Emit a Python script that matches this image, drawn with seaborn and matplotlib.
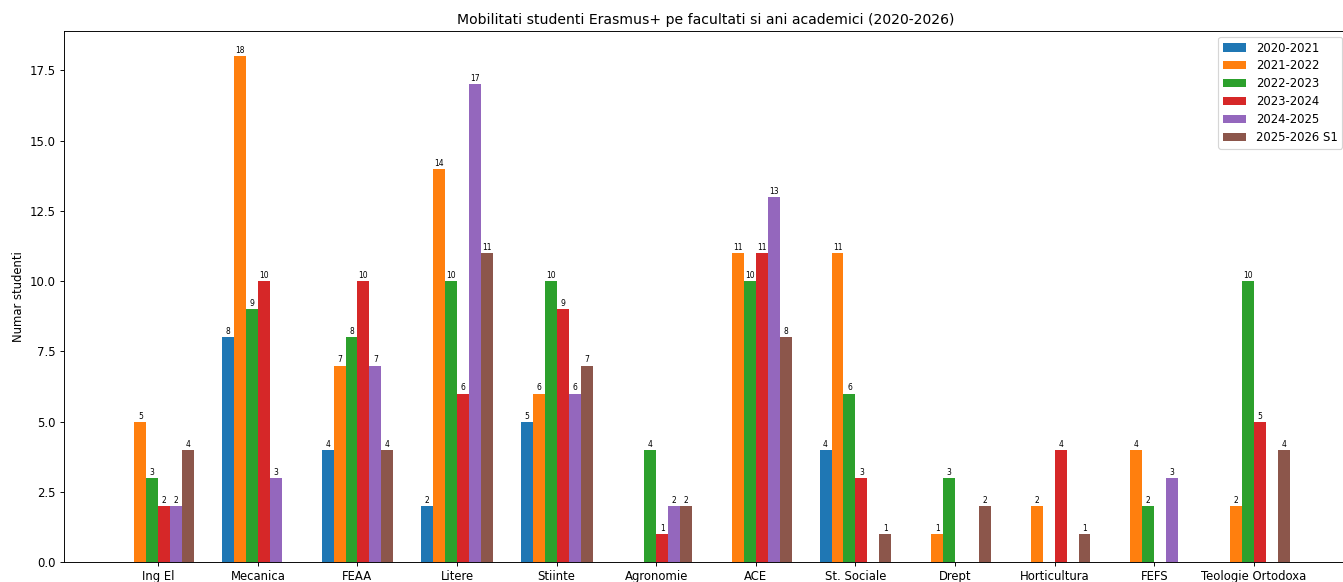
import matplotlib
matplotlib.use("Agg")
import matplotlib.pyplot as plt
import seaborn as sns
import pandas as pd

categories = ["Ing El", "Mecanica", "FEAA", "Litere", "Stiinte", "Agronomie",
              "ACE", "St. Sociale", "Drept", "Horticultura", "FEFS", "Teologie Ortodoxa"]
years = ["2020-2021", "2021-2022", "2022-2023", "2023-2024", "2024-2025", "2025-2026 S1"]

y2020 = [0, 8, 4, 2, 5, 0, 0, 4, 0, 0, 0, 0]
y2021 = [5, 18, 7, 14, 6, 0, 11, 11, 1, 2, 4, 2]
y2022 = [3, 9, 8, 10, 10, 4, 10, 6, 3, 0, 2, 10]
y2023 = [2, 10, 10, 6, 9, 1, 11, 3, 0, 4, 0, 5]
y2024 = [2, 3, 7, 17, 6, 2, 13, 0, 0, 0, 3, 0]
y2025 = [4, 0, 4, 11, 7, 2, 8, 1, 2, 1, 0, 4]

series = [y2020, y2021, y2022, y2023, y2024, y2025]
rows = []
for yr, vals in zip(years, series):
    for c, v in zip(categories, vals):
        rows.append({"Facultate": c, "An": yr, "Studenti": v})
df = pd.DataFrame(rows)

DPI = 84
W, H = 1343, 582
fig = plt.figure(figsize=(W / DPI, H / DPI), dpi=DPI)
left, right, top, bottom = 64, 1348, 31, 562.3
ax = fig.add_axes([left / W, (H - bottom) / H, (right - left) / W, (bottom - top) / H])

palette = ["#1f77b4", "#ff7f0e", "#2ca02c", "#d62728", "#9467bd", "#8c564b"]
sns.barplot(data=df, x="Facultate", y="Studenti", hue="An", order=categories,
            hue_order=years, palette=palette, saturation=1, width=0.72,
            errorbar=None, linewidth=0, ax=ax)

for cont, vals in zip(ax.containers, series):
    ax.bar_label(cont, labels=[str(v) if v > 0 else "" for v in vals], fontsize=6.5, padding=1)

ax.set_xlim(-0.947, 11.946)
ax.set_ylim(0, 18.9)
ax.set_xlabel("")
ax.set_ylabel("Numar studenti")
ax.set_title("Mobilitati studenti Erasmus+ pe facultati si ani academici (2020-2026)")
ax.yaxis.set_major_formatter(matplotlib.ticker.FormatStrFormatter("%.1f"))
ax.set_yticks([0, 2.5, 5, 7.5, 10, 12.5, 15, 17.5])
handles, labels = ax.get_legend_handles_labels()
ax.legend(handles, labels, loc="upper right", labelspacing=0.42)

fig.savefig("out.png", dpi=DPI)
